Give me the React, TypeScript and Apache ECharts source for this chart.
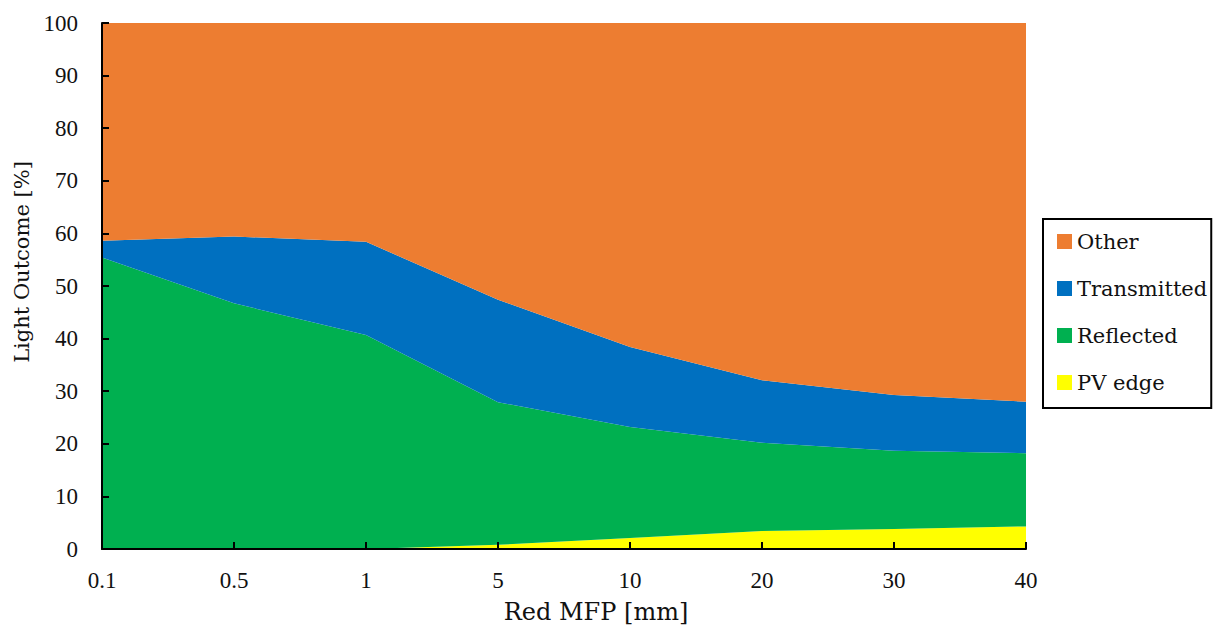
import React, { useEffect, useRef } from "react";
import * as echarts from "echarts";

// Red mean free path values (categorical, evenly spaced)
const categories = ["0.1", "0.5", "1", "5", "10", "20", "30", "40"];

// Light outcome shares in percent, stacked bottom-up
const pvEdge = [0, 0, 0, 0.8, 2.1, 3.4, 3.8, 4.3];
const reflected = [55.4, 46.7, 40.7, 27.1, 21.1, 16.8, 14.9, 13.9];
const transmitted = [3.2, 12.7, 17.7, 19.5, 15.2, 11.9, 10.6, 9.8];
const other = [41.4, 40.6, 41.6, 52.6, 61.6, 67.9, 70.7, 72.0];

const yTicks = { min: 0, max: 100, interval: 10 };

const serif = "Liberation Serif";
const textSerif = "DejaVu Serif";

const areaSeries = (name: string, data: number[], color: string) => ({
  name,
  type: "line",
  stack: "total",
  data,
  symbol: "none",
  showSymbol: false,
  smooth: false,
  lineStyle: { width: 0, opacity: 0 },
  itemStyle: { color },
  areaStyle: { color, opacity: 1 },
  emphasis: { disabled: true },
});

export default function App() {
  const ref = useRef<HTMLDivElement>(null);

  useEffect(() => {
    if (!ref.current) return;
    const chart = echarts.init(ref.current, null, { renderer: "svg" });
    chart.setOption({
      animation: false,
      backgroundColor: "#ffffff",
      grid: {
        left: 102,
        right: 187,
        top: 23,
        bottom: 77,
        containLabel: false,
        outerBoundsMode: "none",
      },
      xAxis: {
        type: "category",
        data: categories,
        boundaryGap: false,
        z: 10,
        name: "Red MFP [mm]",
        nameLocation: "middle",
        nameGap: 51,
        nameTextStyle: {
          fontFamily: textSerif,
          fontSize: 24,
          color: "#111",
          padding: [0, 0, 0, 64],
        },
        axisLine: { show: true, lineStyle: { color: "#000", width: 2 } },
        axisTick: { show: true, inside: true, length: 7, lineStyle: { color: "#000", width: 2 } },
        axisLabel: { fontFamily: serif, fontSize: 23, color: "#111", margin: 20 },
        splitLine: { show: false },
      },
      yAxis: {
        type: "value",
        min: yTicks.min,
        max: yTicks.max,
        interval: yTicks.interval,
        z: 10,
        axisLine: { show: true, lineStyle: { color: "#000", width: 2 } },
        axisTick: { show: true, inside: true, length: 7, lineStyle: { color: "#000", width: 2 } },
        axisLabel: { fontFamily: serif, fontSize: 23, color: "#111", margin: 24 },
        splitLine: { show: false },
      },
      legend: {
        data: ["Other", "Transmitted", "Reflected", "PV edge"],
        orient: "vertical",
        left: 1043,
        top: 219,
        icon: "rect",
        itemWidth: 15,
        itemHeight: 15,
        itemGap: 26,
        padding: [12, 4, 15, 14],
        borderColor: "#000",
        borderWidth: 2,
        backgroundColor: "#fff",
        textStyle: { fontFamily: textSerif, fontSize: 21, color: "#111", lineHeight: 20 },
      },
      graphic: [
        {
          type: "text",
          x: 22,
          y: 262,
          rotation: Math.PI / 2,
          style: {
            text: "Light Outcome [%]",
            fontFamily: textSerif,
            fontSize: 21,
            fill: "#111",
            textAlign: "center",
            textVerticalAlign: "middle",
          },
        },
      ],
      series: [
        areaSeries("PV edge", pvEdge, "#FFFF00"),
        areaSeries("Reflected", reflected, "#00B050"),
        areaSeries("Transmitted", transmitted, "#0070C0"),
        areaSeries("Other", other, "#ED7D31"),
      ],
    });
    return () => chart.dispose();
  }, []);

  return (
    <div
      ref={ref}
      style={{ position: "fixed", left: 0, top: 0, width: 1213, height: 626, background: "#fff" }}
    />
  );
}
